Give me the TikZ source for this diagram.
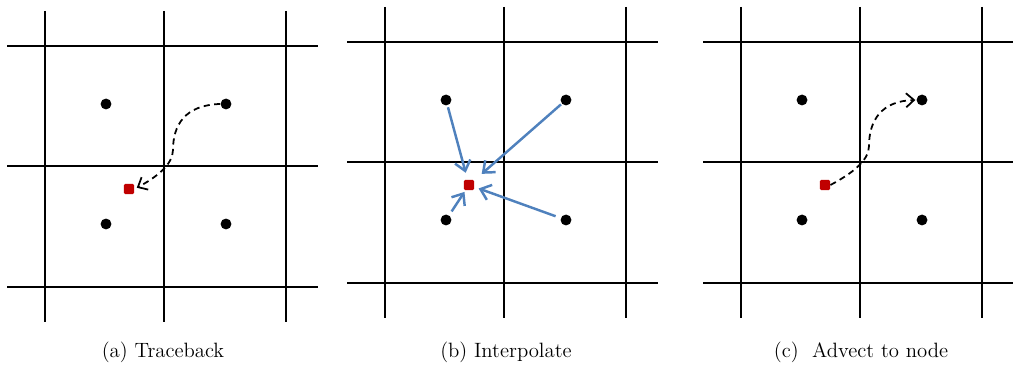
\documentclass[tikz,border=0pt]{standalone}
\usepackage{amsmath}
\usepackage{tikz}
\usetikzlibrary{calc}
\usetikzlibrary{positioning}
\usetikzlibrary{arrows.meta}

\definecolor{cellred}{RGB}{192,0,0}
\definecolor{flowblue}{RGB}{79,129,189}

\begin{document}
\begin{tikzpicture}[x=0.02cm, y=0.02cm]
		
		\useasboundingbox (0,0) rectangle (1013,367);
		
		\tikzset{
			gridline/.style={line width=1.6pt},
			cellnode/.style={circle, fill=black, inner sep=0pt, minimum size=6.2pt},
			parcel/.style={rectangle, fill=cellred, rounded corners=0.8pt, inner sep=0pt, minimum size=5.8pt},
			trail/.style={-{Straight Barb[length=4.5pt, width=8pt]}, line width=1pt, dash pattern=on 3.5pt off 2.5pt},
			weight/.style={-{Straight Barb[length=5.5pt, width=9pt]}, line width=1.4pt, flowblue},
			caption/.style={anchor=base, font=\fontsize{11.8pt}{14pt}\selectfont}
		}
		
		% --- one panel: grid lines, four cell centres, one parcel ---
		\newcommand{\gridpanel}[2]{ 
			\begin{scope}[shift={#1}]
				\foreach \x in {0,119,241} { \draw[gridline] (\x,35) -- (\x,-276); }
				\foreach \y in {0,-120,-241} { \draw[gridline] (-38,\y) -- (273,\y); }
				\node[cellnode] (#2-nw) at (61,-58) {};
				\node[cellnode] (#2-ne) at (181,-58) {};
				\node[cellnode] (#2-sw) at (61,-178) {};
				\node[cellnode] (#2-se) at (181,-178) {};
				\node[parcel] (#2-pt) at (84,-143) {};
				\coordinate (#2-c) at (119,-120);
			\end{scope}
		}
		
		% Render the three panels
		\gridpanel{(45,321)}{a}
		\gridpanel{(385,325)}{b}
		\gridpanel{(741,325)}{c}
		
		% (a) trace the node back to the parcel
		\draw[trail, shorten >=1.5pt] (a-ne.west)
			.. controls ([shift={(21,61)}]a-c) and ([shift={(9,41)}]a-c) .. ([shift={(9,16)}]a-c)
			.. controls ([shift={(9,1)}]a-c) and ([shift={(-9,-12)}]a-c) .. (a-pt.east);
		
		% (b) weights from the four neighbours
		\draw[weight, shorten <=1pt, shorten >=4pt] (b-nw) -- (b-pt);
		\draw[weight, shorten <=0.5pt, shorten >=5.5pt] (b-ne) -- (b-pt);
		\draw[weight, shorten <=2.5pt, shorten >=1pt] (b-sw) -- (b-pt);
		\draw[weight, shorten <=3pt, shorten >=2.5pt] (b-se) -- (b-pt);
		
		% (c) carry the parcel forward to the node
		\draw[trail, shorten >=0.5pt] (c-pt.east)
			.. controls ([shift={(-9,-12)}]c-c) and ([shift={(9,1)}]c-c) .. ([shift={(9,16)}]c-c)
			.. controls ([shift={(9,41)}]c-c) and ([shift={(21,61)}]c-c) .. (c-ne.west);
		
		% captions
		\node[caption] (cap-a) at (163,9) {(a) Traceback};
		\node[caption] (cap-b) at (506,9) {(b) Interpolate};
		\node[caption] (cap-c) at (861,9) {(c)\ \ Advect to node};
		
	\end{tikzpicture}
\end{document}
